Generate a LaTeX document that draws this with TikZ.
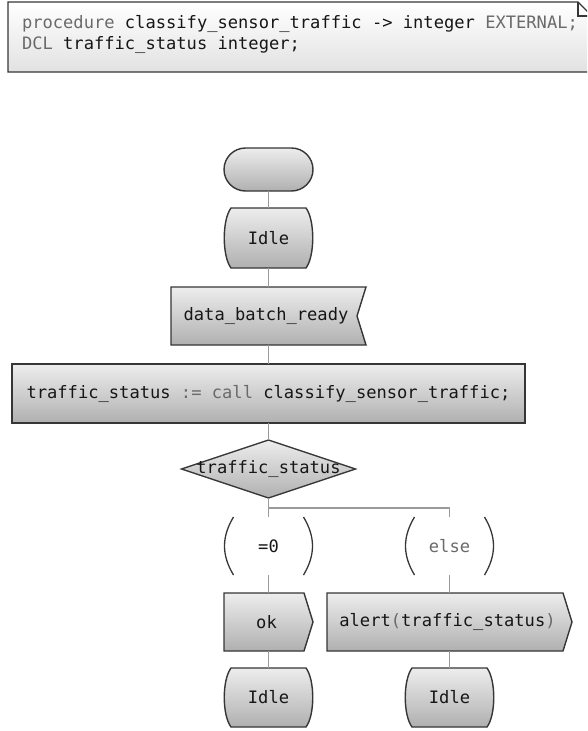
\documentclass[tikz,border=0pt]{standalone}
\usepackage{fontspec}
\setmainfont{DejaVu Sans Mono}
\usetikzlibrary{calc}

\definecolor{ink}{HTML}{161616}
\definecolor{kwgrey}{HTML}{6A6A6A}
\definecolor{edge}{HTML}{363636}
\definecolor{wire}{HTML}{9A9A9A}
\definecolor{shTop}{HTML}{EDEDED}
\definecolor{shBot}{HTML}{B0B0B0}
\definecolor{noteBot}{HTML}{E2E2E2}

\newcommand\kw[1]{\textcolor{kwgrey}{#1}}
\newcommand\sdlfont{\fontsize{17.1}{21}\selectfont}

\pgfdeclarelayer{bg}
\pgfsetlayers{bg,main}

\tikzset{
  lbl/.style={font=\sdlfont, text=ink, inner sep=0pt, outer sep=0pt},
  shp/.style={draw=edge, line width=1.4pt, top color=shTop, bottom color=shBot},
  link/.style={draw=wire, line width=1.1pt},
  paren/.style={draw=edge, line width=1.3pt},
  notebox/.style={draw=edge, line width=1.3pt, top color=white, bottom color=noteBot},
}

% SDL state symbol: flat top and bottom, bulging sides
\newcommand\sdlstate[1]{%
  \path[shp] ($(#1.north west)+(7,0)$) -- ($(#1.north east)+(-7,0)$)
    .. controls ($(#1.north east)+(2,12)$) and ($(#1.south east)+(2,-12)$) .. ($(#1.south east)+(-7,0)$)
    -- ($(#1.south west)+(7,0)$)
    .. controls ($(#1.south west)+(-2,-12)$) and ($(#1.north west)+(-2,12)$) .. cycle;}
% SDL output symbol: arrow-like right side
\newcommand\sdloutput[1]{%
  \path[shp] (#1.north west) -- ($(#1.north east)+(-9,0)$) -- (#1.east)
    -- ($(#1.south east)+(-9,0)$) -- (#1.south west) -- cycle;}
% answer brackets around a decision branch
\newcommand\sdlanswer[1]{%
  \draw[paren] ($(#1.north)+(-35,0)$) .. controls ($(#1.north)+(-47,20)$) and ($(#1.south)+(-47,-20)$) .. ($(#1.south)+(-35,0)$);
  \draw[paren] ($(#1.north)+(35,0)$) .. controls ($(#1.north)+(47,20)$) and ($(#1.south)+(47,-20)$) .. ($(#1.south)+(35,0)$);}

\begin{document}
\begin{tikzpicture}[x=1pt, y=-1pt]
\useasboundingbox (0,0) rectangle (587,731);
\clip (0,0) rectangle (587,731);

% declaration text area
\path[notebox] (8,2) -- (578,2) -- (592,16) -- (592,72) -- (8,72) -- cycle;
\draw[edge, line width=1.1pt] (578,2) -- (578,16) -- (592,16);
\node[lbl, anchor=west, align=left] (note) at (22,34.5)
  {\kw{procedure} classify\_sensor\_traffic -> integer \kw{EXTERNAL;}\\
   \kw{DCL} traffic\_status integer;};

% nodes
\node[lbl, minimum width=89pt, minimum height=43pt] (start) at (268.5,169.5) {};
\node[lbl, minimum width=89pt, minimum height=60pt] (idle1) at (268.5,238) {Idle};
\node[lbl, minimum width=195pt, minimum height=58pt] (input) at (268.5,316) {\hspace*{-5pt}data\_batch\_ready};
\node[lbl, minimum width=513pt, minimum height=59pt] (task) at (268.5,393.5)
  {traffic\_status \kw{:=} \kw{call} classify\_sensor\_traffic;};
\node[lbl, minimum width=174pt, minimum height=58pt] (dec) at (268.5,469) {traffic\_status};
\coordinate (split) at (268.5,508);
\node[lbl, minimum width=80pt, minimum height=58pt] (ans0) at (268.5,546) {=0};
\node[lbl, minimum width=80pt, minimum height=58pt] (ans1) at (449.5,546) {\kw{else}};
\node[lbl, minimum width=89pt, minimum height=58pt] (ok) at (268.5,622) {ok\hspace*{4pt}};
\node[lbl, minimum width=245pt, minimum height=58pt] (alert) at (449.5,622)
  {alert\kw{(}traffic\_status\kw{)}\hspace*{4pt}};
\node[lbl, minimum width=89pt, minimum height=59pt] (idle2) at (268.5,697.5) {Idle};
\node[lbl, minimum width=89pt, minimum height=59pt] (idle3) at (449.5,697.5) {Idle};

% symbol outlines behind the labels
\begin{pgfonlayer}{bg}
  \path[shp, rounded corners=21.5pt] (start.north west) rectangle (start.south east);
  \sdlstate{idle1}
  \path[shp] (input.north west) -- (input.north east) -- ($(input.east)+(-9,0)$)
    -- (input.south east) -- (input.south west) -- cycle;
  \path[shp] (task.north west) rectangle (task.south east);
  \path[shp] (dec.north) -- (dec.east) -- (dec.south) -- (dec.west) -- cycle;
  \sdloutput{ok}
  \sdloutput{alert}
  \sdlstate{idle2}
  \sdlstate{idle3}
\end{pgfonlayer}

\sdlanswer{ans0}
\sdlanswer{ans1}

% connectors
\draw[link] (start.south) -- (idle1.north);
\draw[link] (idle1.south) -- (input.north);
\draw[link] (input.south) -- (task.north);
\draw[link] (task.south) -- (dec.north);
\draw[link] (dec.south) -- (ans0.north);
\draw[link] (split) -| (ans1.north);
\draw[link] (ans0.south) -- (ok.north);
\draw[link] (ans1.south) -- (alert.north);
\draw[link] (ok.south) -- (idle2.north);
\draw[link] (alert.south) -- (idle3.north);
\end{tikzpicture}
\end{document}
